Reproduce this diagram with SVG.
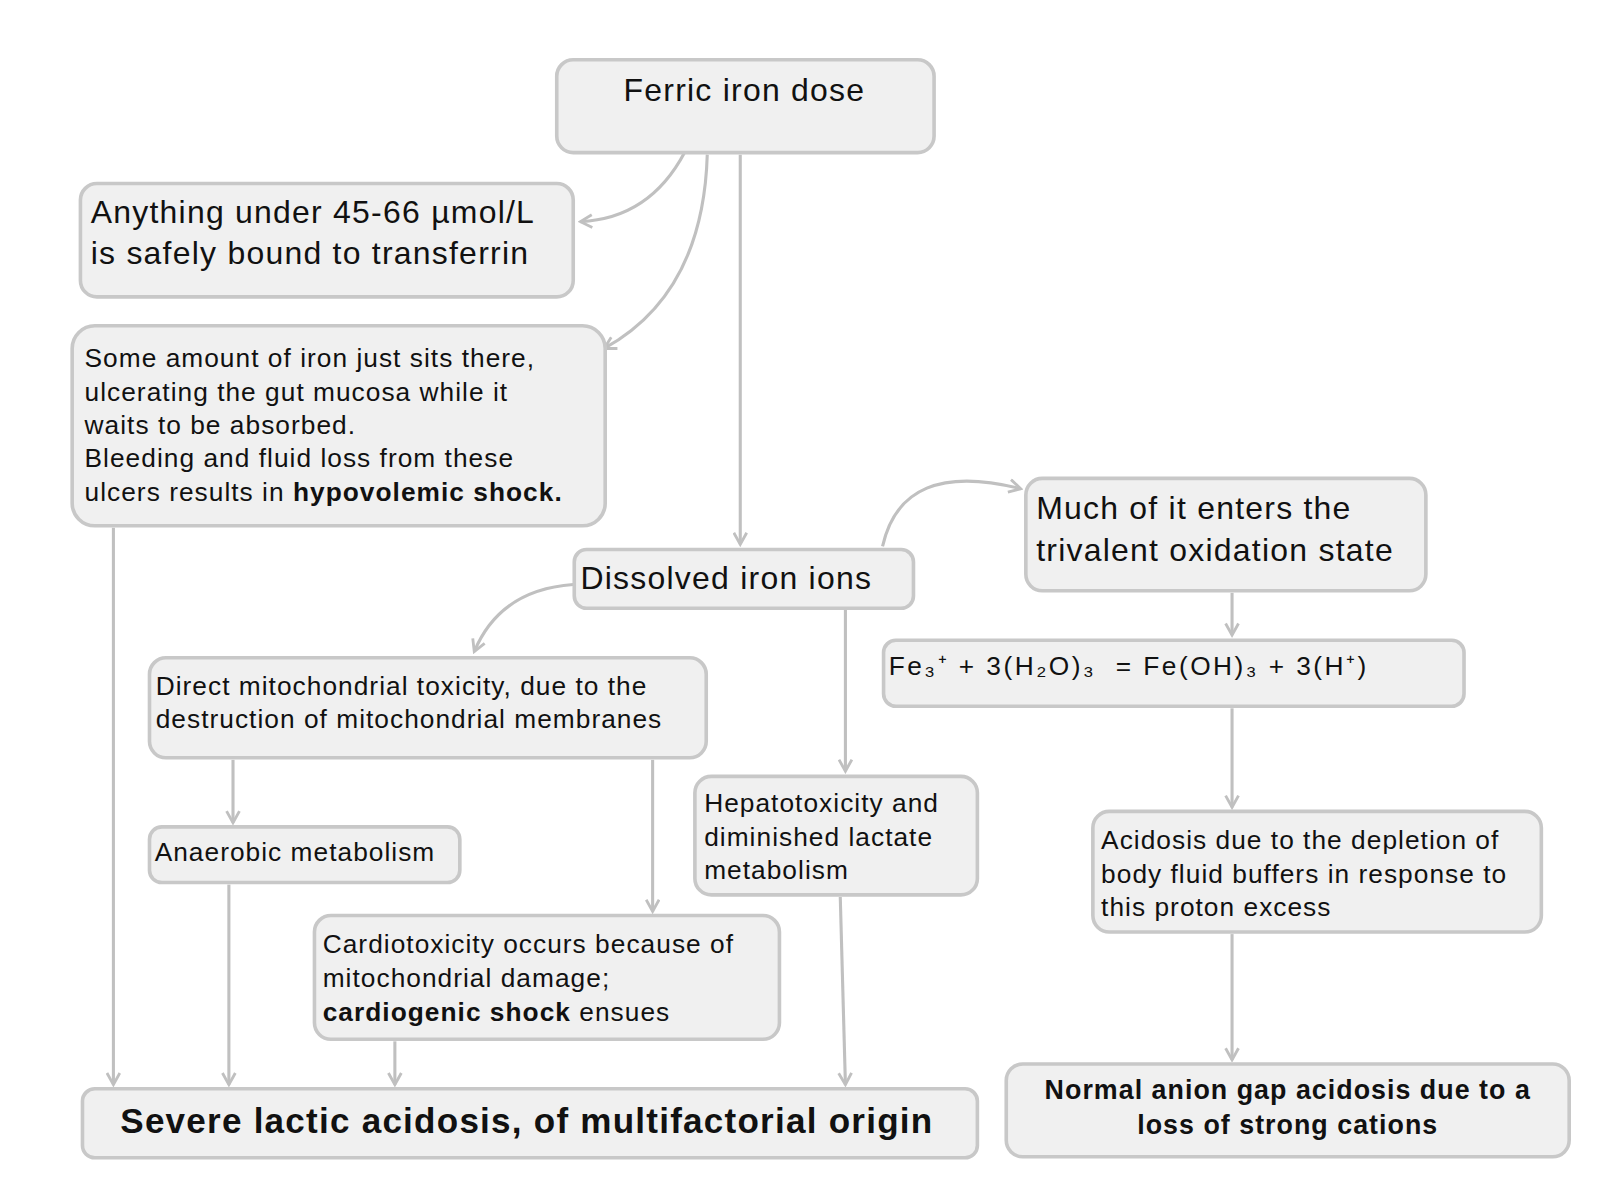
<svg xmlns="http://www.w3.org/2000/svg" width="1600" height="1191" viewBox="0 0 1600 1191">
<style>
rect{fill:#f0f0f0;stroke:#c8c8c8;stroke-width:3.5}
text{font-family:"Liberation Sans",Arial,sans-serif;fill:#111}
.l{font-size:31px;letter-spacing:1.2px}.m{font-size:25.5px;letter-spacing:1px}
.c{stroke:#c0c0c0;stroke-width:3;fill:none;marker-end:url(#a)}
</style>
<defs><marker id="a" viewBox="0 0 12 12" refX="10" refY="6" markerWidth="5" markerHeight="5" orient="auto" markerUnits="strokeWidth"><path d="M1,1 L10,6 L1,11" fill="none" stroke="#c0c0c0" stroke-width="2.2"/></marker></defs>
<rect width="1600" height="1191" style="fill:#fff;stroke:none"/>
<g transform="scale(1.031)">
<g id="connectors">
<path class="c" d="M718,150 V528"/>
<path class="c" d="M664,148 Q630,212 563,215"/>
<path class="c" d="M686,150 Q682,285 586,338"/>
<path class="c" d="M110,512 V1052"/>
<path class="c" d="M556,567 Q485,572 460,632"/>
<path class="c" d="M856,530 Q875,445 990,474"/>
<path class="c" d="M820,590 V748"/>
<path class="c" d="M1195,575 V616"/>
<path class="c" d="M1195,687 V783"/>
<path class="c" d="M1195,906 V1028"/>
<path class="c" d="M226,737 V798"/>
<path class="c" d="M633,737 V884"/>
<path class="c" d="M222,858 V1052"/>
<path class="c" d="M383,1010 V1052"/>
<path class="c" d="M815,870 L820,1052"/>
</g>
<g id="n1"><rect x="540" y="58" width="366" height="90" rx="16"/><text class="l" x="722" y="98" text-anchor="middle">Ferric iron dose</text></g>
<g id="n2"><rect x="78" y="178" width="478" height="110" rx="16"/><text class="l" x="88" y="216">Anything under 45-66 µmol/L</text><text class="l" x="88" y="256">is safely bound to transferrin</text></g>
<g id="n3"><rect x="70" y="316" width="517" height="194" rx="22"/><text class="m"><tspan x="82" y="356">Some amount of iron just sits there,</tspan><tspan x="82" y="389">ulcerating the gut mucosa while it</tspan><tspan x="82" y="421">waits to be absorbed.</tspan><tspan x="82" y="453">Bleeding and fluid loss from these</tspan><tspan x="82" y="486">ulcers results in <tspan font-weight="bold">hypovolemic shock.</tspan></tspan></text></g>
<g id="n4"><rect x="557" y="533" width="329" height="57" rx="12"/><text class="l" x="563" y="571">Dissolved iron ions</text></g>
<g id="n5"><rect x="995" y="464" width="388" height="109" rx="16"/><text class="l" x="1005" y="503">Much of it enters the</text><text class="l" x="1005" y="544">trivalent oxidation state</text></g>
<g id="n6"><rect x="857" y="621" width="563" height="64" rx="12"/><text class="m" x="862" y="655" style="letter-spacing:2.4px" xml:space="preserve">Fe₃⁺ + 3(H₂O)₃  = Fe(OH)₃ + 3(H⁺)</text></g>
<g id="n7"><rect x="145" y="638" width="540" height="97" rx="16"/><text class="m" x="151" y="674">Direct mitochondrial toxicity, due to the</text><text class="m" x="151" y="706">destruction of mitochondrial membranes</text></g>
<g id="n8"><rect x="145" y="802" width="301" height="54" rx="12"/><text class="m" x="150" y="835">Anaerobic metabolism</text></g>
<g id="n9"><rect x="674" y="753" width="274" height="115" rx="16"/><text class="m"><tspan x="683" y="788">Hepatotoxicity and</tspan><tspan x="683" y="821">diminished lactate</tspan><tspan x="683" y="853">metabolism</tspan></text></g>
<g id="n10"><rect x="1060" y="787" width="435" height="117" rx="16"/><text class="m"><tspan x="1068" y="823">Acidosis due to the depletion of</tspan><tspan x="1068" y="856">body fluid buffers in response to</tspan><tspan x="1068" y="888">this proton excess</tspan></text></g>
<g id="n11"><rect x="305" y="888" width="451" height="120" rx="16"/><text class="m"><tspan x="313" y="924">Cardiotoxicity occurs because of</tspan><tspan x="313" y="957">mitochondrial damage;</tspan><tspan x="313" y="990"><tspan font-weight="bold">cardiogenic shock</tspan> ensues</tspan></text></g>
<g id="n12"><rect x="80" y="1056" width="868" height="67" rx="12"/><text x="511" y="1099" text-anchor="middle" font-size="34" font-weight="bold" letter-spacing="1.2">Severe lactic acidosis, of multifactorial origin</text></g>
<g id="n13"><rect x="976" y="1032" width="546" height="90" rx="16"/><text x="1249" y="1066" text-anchor="middle" font-size="26" font-weight="bold" letter-spacing="1">Normal anion gap acidosis due to a</text><text x="1249" y="1100" text-anchor="middle" font-size="26" font-weight="bold" letter-spacing="1">loss of strong cations</text></g>
</g>
</svg>
